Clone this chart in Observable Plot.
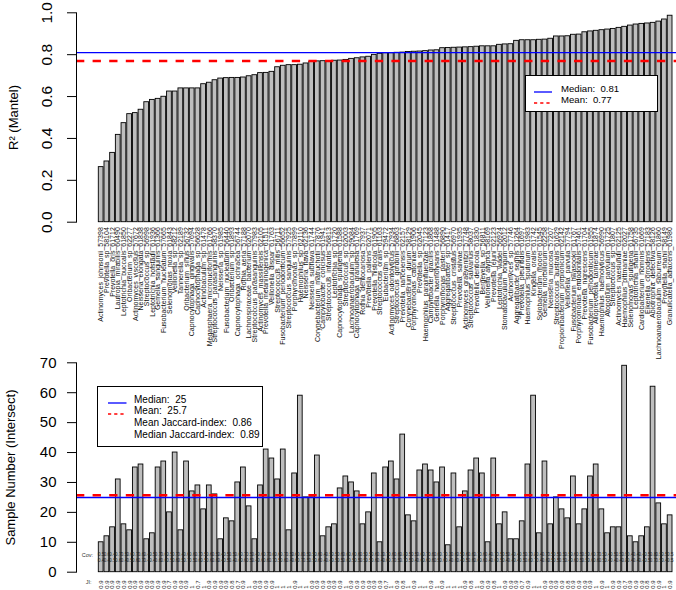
<!DOCTYPE html>
<html><head><meta charset="utf-8">
<script src="https://cdn.jsdelivr.net/npm/d3@7"></script>
<script src="https://cdn.jsdelivr.net/npm/@observablehq/plot@0.6"></script>
<style>
body{margin:0;background:#fff;}
#wrap{position:relative;width:676px;height:590px;overflow:hidden;font-family:"Liberation Sans",Arial,Helvetica,sans-serif;background:#fff;}
#wrap svg{position:absolute;left:0;top:0;overflow:visible;background:transparent;}
.legend{position:absolute;border:1px solid #000;background:#fff;box-sizing:border-box;color:#000;}
.row{position:absolute;white-space:pre;}
.sample{position:absolute;}
</style></head><body><div id="wrap"></div>
<script>
const species = [
"Actinomyces_johnsonii_57398","Prevotella_sp_58104","Prevotella_oris_61712","Lautropia_mirabilis_60490","Leptotrichia_buccalis_61850",
"Oribacterium_sp_62277","Actinomyces_viscosus_57672","Neisseria_elongata_61838","Streptococcus_sp_56998","Leptotrichia_hofstadii_61936",
"Gemella_sanguinis_61366","Fusobacterium_nucleatum_57665","Selenomonas_noxia_61843","Veillonella_sp_58212","Tannerella_sp_62189",
"Oribacterium_sinus_56732","Capnocytophaga_gingivalis_57694","Capnocytophaga_sp_56628","Actinobaculum_sp_61478","Megasphaera_micronuciformis_61766",
"Streptococcus_parasanguinis_58370","Neisseria_sp_61985","Fusobacterium_nucleatum_56440","Oribacterium_sp_61893","Capnocytophaga_ochracea_56744",
"Rothia_aeria_57188","Lachnospiraceae_bacterium_62070","Streptococcus_parasanguinis_57983","Actinomyces_massiliensis_62105","Prevotella_melaninogenica_61511",
"Veillonella_dispar_61763","Streptococcus_mitis_56711","Fusobacterium_periodonticum_56652","Streptococcus_sanguinis_57925","Porphyromonas_sp_57899",
"Haemophilus_sp_62110","Neisseria_flava_62136","Neisseria_subflava_61744","Corynebacterium_matruchotii_57876","Campylobacter_concisus_61941",
"Streptococcus_infantis_56813","Leptotrichia_sp_61720","Capnocytophaga_sputigena_61588","Streptococcus_sp_62003","Lachnoanaerobaculum_sp_59084",
"Capnocytophaga_granulosa_61769","Rothia_dentocariosa_57937","Prevotella_pallens_62071","Prevotella_histicola_61905","Streptococcus_oralis_61163",
"Eubacterium_sp_59472","Actinomyces_odontolyticus_57934","Streptococcus_gordonii_56863","Prevotella_nanceiensis_62157","Corynebacterium_durum_58129",
"Porphyromonas_catoniae_61906","Prevotella_sp_62045","Haemophilus_parainfluenzae_57123","Campylobacter_gracilis_61868","Gemella_haemolysans_61488",
"Porphyromonas_pasteri_56890","Aggregatibacter_sp_61417","Streptococcus_cristatus_56970","Prevotella_salivae_61935","Actinomyces_graevenitzii_57748",
"Streptococcus_salivarius_58037","Prevotella_denticola_61830","Bergeyella_sp_56811","Veillonella_atypica_58169","Prevotella_jejuni_62123",
"Leptotrichia_wadei_56924","Stomatobaculum_longum_62012","Actinomyces_sp_57746","Aggregatibacter_segnis_61264","Prevotella_pleuritidis_61697",
"Haemophilus_sputorum_61983","Kingella_oralis_61742","Solobacterium_moorei_61545","Gemella_morbillorum_62258","Neisseria_mucosa_57207",
"Streptococcus_australis_61629","Propionibacterium_propionicum_62142","Veillonella_parvula_57794","Fusobacterium_hwasookii_61767","Porphyromonas_endodontalis_57461",
"Prevotella_nigrescens_61704","Fusobacterium_periodonticum_61955","Alloprevotella_tannerae_61874","Haemophilus_haemolyticus_56990","Atopobium_parvulum_61725",
"Streptococcus_sp_61807","Actinomyces_naeslundii_62125","Haemophilus_pittmaniae_62027","Selenomonas_sputigena_61758","Leptotrichia_shahii_56735",
"Cardiobacterium_hominis_61669","Eikenella_corrodens_57183","Abiotrophia_defectiva_58126","Lachnoanaerobaculum_saburreum_61860","Prevotella_shahii_58149",
"Granulicatella_adiacens_61980"
];
const r2 = [
0.263,0.290,0.331,0.417,0.473,0.516,0.521,0.537,0.573,0.584,0.589,0.599,0.624,0.624,0.639,0.639,0.639,0.639,0.659,0.666,
0.678,0.686,0.688,0.689,0.689,0.691,0.697,0.702,0.712,0.713,0.718,0.740,0.747,0.750,0.750,0.752,0.758,0.766,0.768,0.769,
0.769,0.771,0.772,0.775,0.780,0.783,0.787,0.790,0.799,0.804,0.807,
0.807,0.809,0.810,0.813,0.814,0.815,0.817,0.820,0.821,0.831,0.832,0.833,0.834,0.835,0.836,0.838,
0.840,0.840,0.840,0.847,0.849,0.850,0.866,0.869,0.869,0.869,0.871,0.872,0.876,0.887,0.887,0.888,0.895,0.896,0.907,0.911,
0.914,0.917,0.920,0.923,0.928,0.933,0.939,0.944,0.947,0.949,0.952,0.958,0.968,0.986
];
const samples = [
10,12,15,31,16,14,35,36,11,13,35,37,20,40,14,37,27,29,21,29,26,11,18,17,30,35,22,11,29,41,38,31,41,
14,33,59,25,25,39,12,15,16,28,32,30,27,16,20,33,10,35,37,31,46,19,17,34,36,34,30,35,9,33,15,27,34,38,33,
10,38,16,20,11,11,17,36,59,13,37,16,25,21,18,32,16,21,32,36,21,13,15,15,69,12,10,12,15,62,23,16,19
];
const ji = [
0.9,0.9,0.9,0.9,0.9,0.9,0.9,0.9,0.9,0.9,0.9,0.9,0.7,0.9,0.9,0.9,1,0.7,1,0.9,0.9,0.9,0.9,0.8,0.7,0.9,1,0.9,0.9,0.9,0.9,1,1,1,
0.9,1,1,0.9,0.9,0.9,0.9,0.9,0.9,1,0.9,0.9,0.9,0.9,0.9,0.9,0.7,1,0.9,0.8,1,0.9,1,1,0.9,1,0.9,1,1,1,0.9,0.8,1,0.9,
0.9,0.8,1,0.9,0.9,0.9,0.7,0.9,1,1,0.9,0.9,0.9,0.9,0.8,0.9,0.9,0.9,0.9,1,0.9,1,0.9,0.9,0.7,0.9,0.9,0.9,0.8,0.9,0.9,1,0.9
];
const covA = [
0.5,0.6,0.4,0.7,0.5,0.6,0.7,0.6,0.4,0.5,0.7,0.6,0.5,0.7,0.4,0.6,0.6,0.7,0.5,0.6,
0.5,0.4,0.5,0.5,0.6,0.7,0.5,0.4,0.6,0.7,0.6,0.6,0.7,0.5,0.6,0.8,0.5,0.5,0.6,0.4,
0.5,0.5,0.6,0.6,0.6,0.6,0.5,0.5,0.6,0.3,0.7,0.6,0.6,0.8,0.5,0.5,0.6,0.7,0.6,0.6,
0.7,0.3,0.6,0.5,0.6,0.6,0.7,0.6,0.4,0.7,0.5,0.5,0.4,0.4,0.5,0.7,0.8,0.4,0.7,0.5,
0.5,0.5,0.5,0.6,0.5,0.5,0.6,0.7,0.5,0.4,0.5,0.5,0.9,0.4,0.4,0.4,0.5,0.8,0.5,0.5,0.5
];
const covB = [
0.4,0.4,0.5,0.6,0.4,0.5,0.6,0.7,0.4,0.4,0.6,0.6,0.5,0.6,0.5,0.7,0.5,0.6,0.5,0.6,
0.6,0.4,0.5,0.4,0.6,0.6,0.5,0.4,0.6,0.6,0.7,0.5,0.6,0.4,0.6,0.7,0.5,0.5,0.6,0.4,
0.4,0.5,0.5,0.6,0.5,0.5,0.5,0.5,0.6,0.4,0.6,0.7,0.5,0.7,0.5,0.4,0.6,0.6,0.6,0.5,
0.6,0.4,0.6,0.4,0.5,0.6,0.6,0.6,0.4,0.6,0.5,0.4,0.4,0.4,0.5,0.6,0.7,0.4,0.6,0.5,
0.5,0.5,0.4,0.6,0.5,0.5,0.6,0.6,0.5,0.4,0.4,0.4,0.8,0.4,0.4,0.4,0.5,0.7,0.5,0.4,0.5
];
const r2Median = 0.81, r2Mean = 0.77;
const nMedian = 25, nMean = 25.7;
const meanJI = 0.86, medianJI = 0.89;
const r2Ticks = [0, 0.2, 0.4, 0.6, 0.8, 1.0];
const nTicks = [0, 10, 20, 30, 40, 50, 60, 70];
const r2Title = "R² (Mantel)";
const nTitle = "Sample Number (Intersect)";

const topData = species.map((s, i) => ({name: s, value: r2[i]}));
const botData = species.map((s, i) => ({name: s, value: samples[i], ji: String(ji[i]), cov: covA[i].toFixed(1) + "\n" + covB[i].toFixed(1)}));

const W = 676, H = 590;
const FONT = "'Liberation Sans', Arial, Helvetica, sans-serif";
const BLUE = "#0000ff", RED = "#ff0000", GREY = "#bebebe";
const xOpts = () => ({domain: species, paddingInner: 0.1667, paddingOuter: 1.96, align: 1, insetRight: 4, axis: null});
const baseStyle = {background: "transparent", overflow: "visible", fontFamily: FONT, fontSize: "15px", color: "#000"};

const topPlot = Plot.plot({
  width: W, height: H,
  marginLeft: 76, marginRight: 0, marginTop: 12.3, marginBottom: H - 221.7,
  style: baseStyle,
  x: xOpts(),
  y: {domain: [0, 1]},
  marks: [
    Plot.barY(topData, {x: "name", y: "value", fill: GREY, stroke: "#000", strokeWidth: 0.9}),
    Plot.ruleY([r2Median], {stroke: BLUE, strokeWidth: 1.2}),
    Plot.ruleY([r2Mean], {stroke: RED, strokeWidth: 2.6, strokeDasharray: "8.3,8.3"}),
    Plot.frame({anchor: "left", stroke: "#000", strokeWidth: 1}),
    Plot.axisY({ticks: r2Ticks, tickSize: 9, tickFormat: () => "", label: null, stroke: "#000"}),
    Plot.text(r2Ticks, {y: d => d, text: d => d.toFixed(1), frameAnchor: "left", dx: -29, rotate: -90, fontSize: 15.5, lineAnchor: "middle", textAnchor: "middle", fill: "#000"}),
    Plot.text([r2Title], {text: d => d, frameAnchor: "left", dx: -63, rotate: -90, fontSize: 13, lineAnchor: "middle", textAnchor: "middle", fill: "#000"}),
    Plot.text(topData, {x: "name", text: "name", frameAnchor: "bottom", dy: 5, rotate: -90, textAnchor: "end", lineAnchor: "middle", fontSize: 7, fill: "#111"})
  ]
});

const botPlot = Plot.plot({
  width: W, height: H,
  marginLeft: 76, marginRight: 0, marginTop: 362.3, marginBottom: H - 571.7,
  style: baseStyle,
  x: xOpts(),
  y: {domain: [0, 70]},
  marks: [
    Plot.barY(botData, {x: "name", y: "value", fill: GREY, stroke: "#000", strokeWidth: 0.9}),
    Plot.text(botData, {x: "name", text: "cov", frameAnchor: "bottom", dy: -15, fontSize: 5, lineHeight: 1.05, lineAnchor: "middle", fill: "#222"}),
    Plot.ruleY([nMedian], {stroke: BLUE, strokeWidth: 1.5}),
    Plot.ruleY([nMean], {stroke: RED, strokeWidth: 2.6, strokeDasharray: "8.3,8.3"}),
    Plot.frame({anchor: "left", stroke: "#000", strokeWidth: 1}),
    Plot.axisY({ticks: nTicks, tickSize: 9, tickPadding: 11, fontSize: 15, label: null, stroke: "#000", fill: "#000"}),
    Plot.text([nTitle], {text: d => d, frameAnchor: "left", dx: -66, rotate: -90, fontSize: 13, lineAnchor: "middle", textAnchor: "middle", fill: "#000"}),
    Plot.text(botData, {x: "name", text: "ji", frameAnchor: "bottom", dy: 16.5, rotate: -90, textAnchor: "start", lineAnchor: "middle", fontSize: 6, fill: "#222"}),
    Plot.text(["Cov:"], {text: d => d, frameAnchor: "bottom-left", dx: 16.5, dy: -15.5, textAnchor: "end", fontSize: 5.5, fill: "#333"}),
    Plot.text(["JI:"], {text: d => d, frameAnchor: "bottom-left", dx: 15, dy: 11.5, textAnchor: "end", fontSize: 5.5, fill: "#333"})
  ]
});

const wrap = document.getElementById("wrap");
wrap.appendChild(topPlot);
wrap.appendChild(botPlot);

function sampleSvg(color, dashed, w) {
  const sw = dashed ? 1.6 : 1.3;
  const dash = dashed ? ` stroke-dasharray="3.2,3"` : "";
  return `<svg width="${w}" height="6" style="position:static;overflow:visible"><line x1="0" x2="${w}" y1="3" y2="3" stroke="${color}" stroke-width="${sw}"${dash}/></svg>`;
}
function legend(box, rows, fs, sampleLeft, sampleW, textLeft) {
  const d = document.createElement("div");
  d.className = "legend";
  Object.assign(d.style, {left: box[0] + "px", top: box[1] + "px", width: box[2] + "px", height: box[3] + "px", fontSize: fs + "px"});
  rows.forEach(r => {
    if (r.color) {
      const s = document.createElement("div");
      s.className = "sample";
      Object.assign(s.style, {left: sampleLeft + "px", top: (r.y - 3) + "px", width: sampleW + "px", height: "6px"});
      s.innerHTML = sampleSvg(r.color, r.dashed, sampleW);
      d.appendChild(s);
    }
    const t = document.createElement("div");
    t.className = "row";
    Object.assign(t.style, {left: textLeft + "px", top: (r.y - fs * 0.6) + "px", lineHeight: (fs * 1.2) + "px"});
    t.textContent = r.text;
    d.appendChild(t);
  });
  wrap.appendChild(d);
}
legend([525, 75, 133, 37], [
  {y: 12.5, color: BLUE, dashed: false, text: `Median:  ${r2Median.toFixed(2)}`},
  {y: 24, color: RED, dashed: true, text: `Mean:  ${r2Mean.toFixed(2)}`}
], 9.6, 8, 18, 35);
legend([97, 386, 166, 61], [
  {y: 12.5, color: BLUE, dashed: false, text: `Median:  ${nMedian}`},
  {y: 24.2, color: RED, dashed: true, text: `Mean:  ${nMean}`},
  {y: 36.4, text: `Mean Jaccard-index:  ${meanJI}`},
  {y: 48.4, text: `Median Jaccard-index:  ${medianJI}`}
], 10, 9.5, 18.5, 36);
</script>
</body></html>
